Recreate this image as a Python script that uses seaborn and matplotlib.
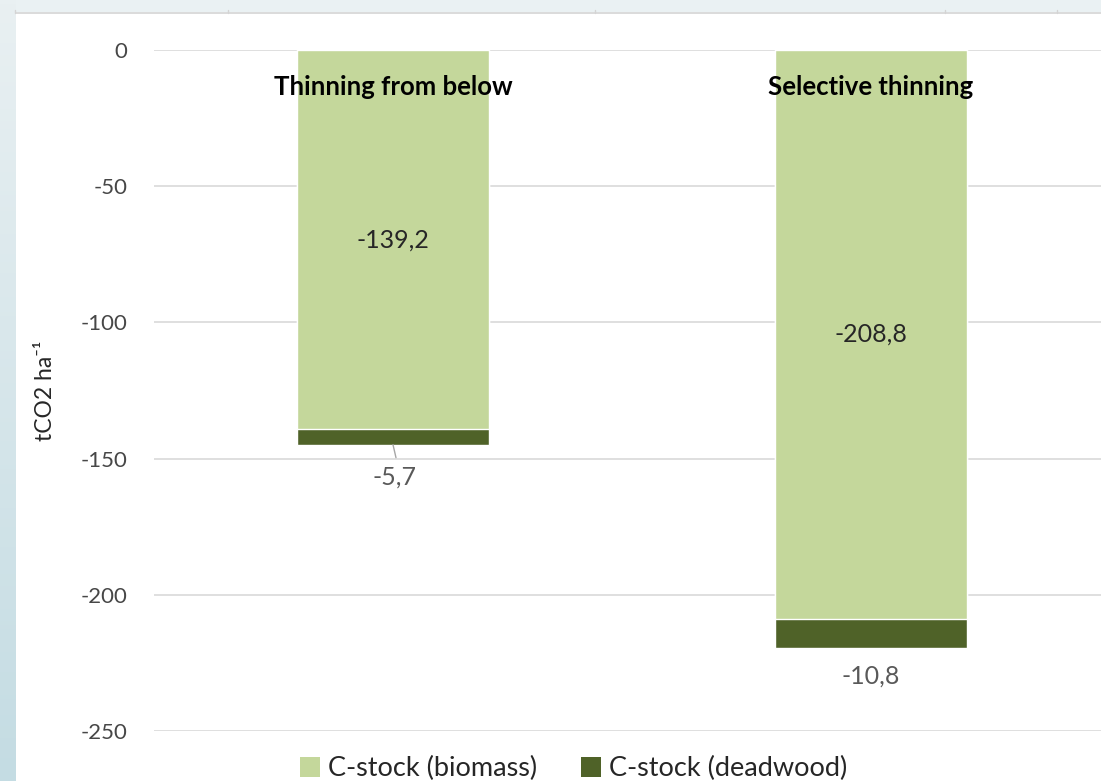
import numpy as np
import pandas as pd
import matplotlib
matplotlib.use("Agg")
import matplotlib.pyplot as plt
from matplotlib.patches import Patch, Rectangle
import seaborn as sns

# ---- data ----
categories = ["Thinning from below", "Selective thinning"]
biomass = [-139.2, -208.8]
deadwood = [-5.7, -10.8]
series_names = ["C-stock (biomass)", "C-stock (deadwood)"]
yticks = [0, -50, -100, -150, -200, -250]
ylabel = "tCO2 ha⁻¹"

LIGHT = "#C4D79B"
DARK = "#4F6228"
GREY = "#595959"

sns.set_theme(style="white")
plt.rcParams["font.family"] = ["Lato", "DejaVu Sans"]

W, H = 1101, 781
fig = plt.figure(figsize=(W / 100, H / 100), dpi=100)
fig.patch.set_facecolor("white")

# background (screenshot frame)
bg = fig.add_axes([0, 0, 1, 1], zorder=-10)
bg.set_xlim(0, W)
bg.set_ylim(H, 0)
bg.axis("off")
grad = np.linspace(0, 1, 200).reshape(-1, 1)
cmap = matplotlib.colors.LinearSegmentedColormap.from_list("g", ["#E9F0F2", "#C4DCE3"])
bg.imshow(grad, cmap=cmap, extent=(0, 16, H, 0), aspect="auto")
bg.add_patch(Rectangle((16, 0), W - 16, 12, color="#EAF1F3", lw=0))
bg.plot([16, W], [12.5, 12.5], color="#D4D4D4", lw=1.2)
for xt in [15, 228, 595, 945, 1057]:
    bg.plot([xt, xt], [10, 13], color="#D4D4D4", lw=1)

# main axes
ax = fig.add_axes([154 / W, 50 / H, 956 / W, 681 / H])
ax.set_facecolor("none")

df = pd.DataFrame({"method": categories, "biomass": biomass, "deadwood": deadwood})
df["total"] = df["biomass"] + df["deadwood"]

sns.barplot(data=df, x="method", y="total", color=DARK, width=0.4,
            saturation=1, ax=ax, zorder=3)
sns.barplot(data=df, x="method", y="biomass", color=LIGHT, width=0.4,
            saturation=1, ax=ax, zorder=4)

ax.set_xlim(-0.5, 1.5)
ax.set_ylim(-250, 0)
ax.set_yticks(yticks)
ax.set_yticklabels([str(v) for v in yticks])
ax.set_xticks([])
ax.set_xlabel("")
ax.grid(axis="y", color="#D9D9D9", lw=1.2, zorder=0)
ax.set_axisbelow(True)
for s in ax.spines.values():
    s.set_visible(False)
ax.tick_params(axis="y", length=0, pad=19, labelsize=16, labelcolor="#474747")

ax.set_ylabel(ylabel, fontsize=16.5, color="#262626")
ax.yaxis.set_label_coords(-0.103, 0.5)


def fmt(v):
    return f"{v:.1f}".replace(".", ",")


for i, row in df.iterrows():
    # category label on top
    ax.text(i, -13.5, row["method"], ha="center", va="center", fontsize=18.5,
            fontweight="bold", color="black", zorder=6)
    # biomass label in middle of segment
    ax.text(i, row["biomass"] / 2, fmt(row["biomass"]), ha="center", va="center",
            fontsize=18, color="#262626", zorder=6)

# deadwood labels below bars
offsets = [(2, -32), (0, -28)]
for i, row in df.iterrows():
    dx, dy = offsets[i]
    if i == 0:
        ax.annotate("", xy=(i, row["total"]), xytext=(3, -13),
                    textcoords="offset pixels",
                    arrowprops=dict(arrowstyle="-", color="#A6A6A6", lw=1,
                                    shrinkA=0, shrinkB=0), zorder=6)
    ax.annotate(fmt(row["deadwood"]), xy=(i, row["total"]), xytext=(dx, dy),
                textcoords="offset pixels", ha="center", va="center",
                fontsize=18, color=GREY, zorder=6)

handles = [Patch(facecolor=LIGHT, edgecolor="none"), Patch(facecolor=DARK, edgecolor="none")]
fig.legend(handles, series_names, loc="center", bbox_to_anchor=(0.521, 0.016),
           ncol=2, frameon=False, fontsize=19.5, labelcolor="#262626",
           handlelength=0.75, handleheight=0.75, handletextpad=0.3,
           columnspacing=1.6)

fig.savefig("out.png", dpi=100)
